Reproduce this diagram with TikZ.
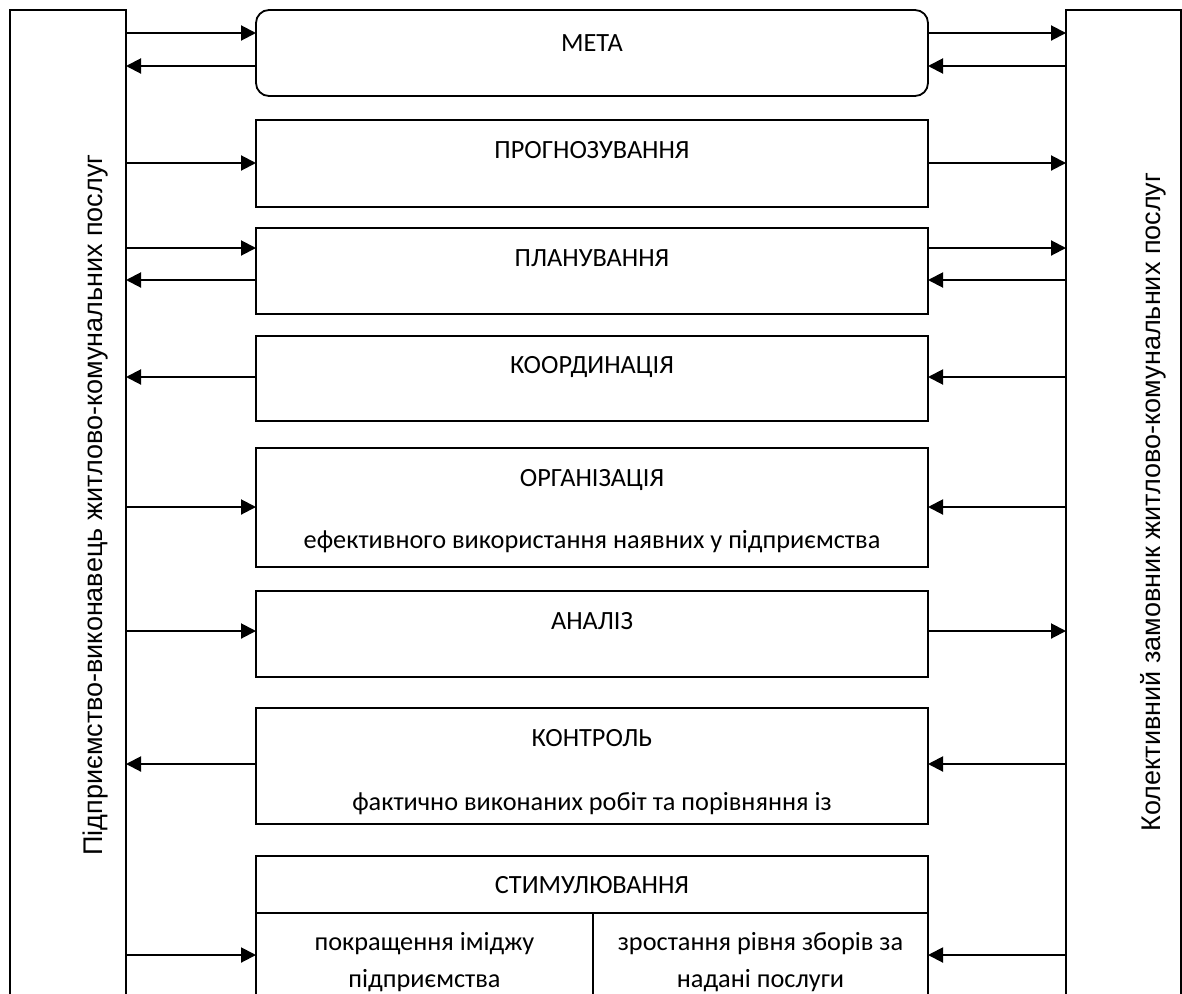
\documentclass[tikz,border=0pt]{standalone}
\usepackage{fontspec}
\setmainfont{Carlito}
\newfontfamily\sidefont{Liberation Sans}
\usetikzlibrary{arrows.meta}
\begin{document}
\begin{tikzpicture}[x=1pt,y=-1pt,
  box/.style={draw, line width=1.8pt, inner sep=0pt, outer sep=0pt, rectangle},
  arr/.style={line width=2pt, -{Triangle[length=15pt,width=15pt]}},
  lbl/.style={font=\fontsize{26.3}{30}\selectfont, inner sep=0pt, anchor=base},
  side/.style={font=\sidefont\fontsize{27}{31}\selectfont, inner sep=0pt, rotate=90}]
\useasboundingbox (0,0) rectangle (1182,993);
\fill[white] (0,0) rectangle (1182,993);
\clip (0,0) rectangle (1182,993);

% side boxes
\node[box, minimum width=116pt, minimum height=1000pt] (L) at (68,510) {};
\node[box, minimum width=115pt, minimum height=1000pt] (R) at (1123.5,510) {};
\node[side] (Lt) at (96,505) {Підприємство-виконавець житлово-комунальних послуг};
\node[side] (Rt) at (1153,502) {Колективний замовник житлово-комунальних послуг};

% central boxes
\node[box, rounded corners=13pt, minimum width=672pt, minimum height=86pt] (meta) at (592,53) {};
\node[box, minimum width=672pt, minimum height=87pt] (prog) at (592,163.5) {};
\node[box, minimum width=672pt, minimum height=86pt] (plan) at (592,271) {};
\node[box, minimum width=672pt, minimum height=85pt] (koord) at (592,378.5) {};
\node[box, minimum width=672pt, minimum height=119pt] (org) at (592,507.5) {};
\node[box, minimum width=672pt, minimum height=86pt] (anal) at (592,634) {};
\node[box, minimum width=672pt, minimum height=116pt] (kontr) at (592,766) {};
\node[box, minimum width=672pt, minimum height=57pt] (stim) at (592,884.5) {};
\node[box, minimum width=337pt, minimum height=97pt] (subL) at (424.5,961.5) {};
\node[box, minimum width=335pt, minimum height=97pt] (subR) at (760.5,961.5) {};

% texts
\node[lbl] (metat) at (592,51) {МЕТА};
\node[lbl] (progt) at (592,158) {ПРОГНОЗУВАННЯ};
\node[lbl] (plant) at (592,266) {ПЛАНУВАННЯ};
\node[lbl] (koordt) at (592,373) {КООРДИНАЦІЯ};
\node[lbl] (orgt) at (592,486) {ОРГАНІЗАЦІЯ};
\node[lbl] (orgt2) at (592,548) {ефективного використання наявних у підприємства};
\node[lbl] (analt) at (592,629) {АНАЛІЗ};
\node[lbl] (kontrt) at (592,746) {КОНТРОЛЬ};
\node[lbl] (kontrt2) at (592,810) {фактично виконаних робіт та порівняння із};
\node[lbl] (stimt) at (592,893) {СТИМУЛЮВАННЯ};
\node[lbl] (subLa) at (424.5,950) {покращення іміджу};
\node[lbl] (subLb) at (424.5,987) {підприємства};
\node[lbl] (subRa) at (760.5,950) {зростання рівня зборів за};
\node[lbl] (subRb) at (760.5,987) {надані послуги};

% y levels
\coordinate (y1) at (0,33);
\coordinate (y2) at (0,66);
\coordinate (y3) at (0,163);
\coordinate (y4) at (0,248);
\coordinate (y5) at (0,280);
\coordinate (y6) at (0,377);
\coordinate (y7) at (0,507);
\coordinate (y8) at (0,631);
\coordinate (y9) at (0,764);
\coordinate (y10) at (0,955);

% left arrows
\draw[arr] (L.east |- y1) -- (meta.west |- y1);
\draw[arr] (meta.west |- y2) -- (L.east |- y2);
\draw[arr] (L.east |- y3) -- (prog.west |- y3);
\draw[arr] (L.east |- y4) -- (plan.west |- y4);
\draw[arr] (plan.west |- y5) -- (L.east |- y5);
\draw[arr] (koord.west |- y6) -- (L.east |- y6);
\draw[arr] (L.east |- y7) -- (org.west |- y7);
\draw[arr] (L.east |- y8) -- (anal.west |- y8);
\draw[arr] (kontr.west |- y9) -- (L.east |- y9);
\draw[arr] (L.east |- y10) -- (subL.west |- y10);

% right arrows
\draw[arr] (meta.east |- y1) -- (R.west |- y1);
\draw[arr] (R.west |- y2) -- (meta.east |- y2);
\draw[arr] (prog.east |- y3) -- (R.west |- y3);
\draw[arr] (plan.east |- y4) -- (R.west |- y4);
\draw[arr] (R.west |- y5) -- (plan.east |- y5);
\draw[arr] (R.west |- y6) -- (koord.east |- y6);
\draw[arr] (R.west |- y7) -- (org.east |- y7);
\draw[arr] (anal.east |- y8) -- (R.west |- y8);
\draw[arr] (R.west |- y9) -- (kontr.east |- y9);
\draw[arr] (R.west |- y10) -- (subR.east |- y10);
\end{tikzpicture}
\end{document}
